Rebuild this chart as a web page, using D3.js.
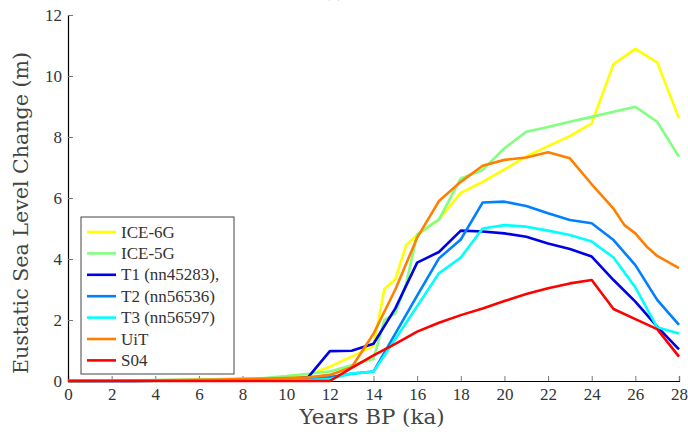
<!DOCTYPE html>
<html>
<head>
<meta charset="utf-8">
<script src="https://cdn.jsdelivr.net/npm/d3@7"></script>
<style>
  body { margin: 0; background: #fff; }
</style>
</head>
<body>
<div id="chart"></div>
<script>
// Data
const years = d3.range(0, 29);
const yearsIce = [0,1,2,3,4,5,6,7,8,9,10,11,12,13,14,14.5,15,15.5,16,17,18,19,20,21,22,23,24,25,26,27,28];
const yearsUiT = [0,1,2,3,4,5,6,7,8,9,10,11,12,13,14,15,16,17,18,19,20,21,22,23,24,25,25.5,26,26.5,27,28];

const ice6g = [0,0,0.01,0.01,0.02,0.02,0.03,0.04,0.05,0.07,0.1,0.2,0.47,0.8,1.15,3.02,3.33,4.46,4.79,5.3,6.17,6.53,6.94,7.36,7.7,8.03,8.45,10.39,10.89,10.45,8.61];
const ice5g = [0,0,0.01,0.02,0.03,0.04,0.05,0.06,0.08,0.1,0.16,0.24,0.31,0.52,0.72,2.0,2.22,3.2,4.8,5.3,6.64,6.92,7.63,8.17,8.33,8.5,8.66,8.83,8.99,8.5,7.35];
const t1 = [0,0,0,0,0.01,0.01,0.02,0.02,0.03,0.04,0.06,0.12,0.98,0.99,1.22,2.38,3.88,4.23,4.93,4.9,4.84,4.73,4.51,4.33,4.08,3.31,2.6,1.78,1.04];
const t2 = [0,0,0,0,0.01,0.01,0.01,0.02,0.02,0.03,0.03,0.05,0.13,0.24,0.31,1.55,2.8,4.02,4.64,5.85,5.88,5.74,5.5,5.28,5.17,4.62,3.8,2.66,1.84];
const t3 = [0,0,0,0,0,0.01,0.01,0.01,0.01,0.02,0.02,0.03,0.06,0.25,0.3,1.38,2.45,3.53,4.05,5.0,5.11,5.06,4.93,4.79,4.57,4.05,3.07,1.76,1.56];
const uit = [0,0.01,0.01,0.02,0.02,0.03,0.04,0.05,0.06,0.08,0.1,0.12,0.2,0.45,1.55,3.0,4.7,5.9,6.53,7.06,7.25,7.33,7.5,7.3,6.45,5.65,5.11,4.84,4.42,4.1,3.7];
const s04 = [0,0,0,0,0,0,0,0,0,0,0,0,0,0.43,0.84,1.22,1.62,1.91,2.16,2.38,2.62,2.85,3.04,3.2,3.31,2.36,2.03,1.7,0.8];

const seriesNames = ['ICE-6G', 'ICE-5G', 'T1 (nn45283),', 'T2 (nn56536)', 'T3 (nn56597)', 'UiT', 'S04'];
const seriesColors = ['#ffff00', '#80ff80', '#0000e6', '#0080ff', '#00ffff', '#ff8000', '#ff0000'];
const seriesX = [yearsIce, yearsIce, years, years, years, yearsUiT, years];
const seriesY = [ice6g, ice5g, t1, t2, t3, uit, s04];

const xTicks = d3.range(0, 29, 2);
const yTicks = [0, 2, 4, 6, 8, 10, 12];

// Liberation Serif falls back to sans at big sizes here, so the titles use DejaVu Serif
const serif = '"Liberation Serif", serif';
const titleFont = '"DejaVu Serif"';
let width = 688,
  height = 435;
const margin = { left: 68, top: 15, right: 9, bottom: 54 };

const svg = d3
  .select('#chart')
  .append('svg')
  .attr('width', width)
  .attr('height', height);

const x = d3.scaleLinear().domain([0, 28]).range([margin.left, width - margin.right]);
const y = d3.scaleLinear().domain([0, 12]).range([height - margin.bottom, margin.top]);

// title, cut off by the top edge in the original
svg.append('text')
  .attr('x', 334)
  .attr('y', -3)
  .attr('text-anchor', 'middle')
  .style('font-family', serif)
  .style('font-size', '16px')
  .attr('fill', '#333')
  .text('(a)');

// axes with inward ticks
const xAxis = svg.append('g')
  .attr('transform', `translate(0,${y(0)})`)
  .call(d3.axisBottom(x).tickValues(xTicks).tickSize(-5).tickPadding(7));
const yAxis = svg.append('g')
  .attr('transform', `translate(${x(0)},0)`)
  .call(d3.axisLeft(y).tickValues(yTicks).tickSize(-5).tickPadding(6));

[xAxis, yAxis].forEach((a) => {
  a.select('.domain').attr('stroke', '#000').attr('stroke-width', 1.2);
  a.selectAll('.tick line').attr('stroke', '#777');
  a.selectAll('.tick text')
    .style('font-family', serif)
    .style('font-size', '17px')
    .attr('fill', '#333');
});

// lines
const line = d3.line().x((d) => x(d[0])).y((d) => y(d[1]));
const g = svg.append('g')
  .attr('fill', 'none')
  .attr('stroke-width', 2.6)
  .attr('stroke-linejoin', 'round');

seriesNames.forEach((name, i) => {
  const pts = seriesX[i].map((xv, j) => [xv, seriesY[i][j]]);
  g.append('path')
    .attr('d', line(pts))
    .attr('stroke', seriesColors[i]);
});

// axis titles
svg.append('text')
  .attr('transform', `translate(28,${(y(0) + y(12)) / 2 + 15}) rotate(-90)`)
  .attr('text-anchor', 'middle')
  .attr('font-family', 'DejaVu Serif')
  .style('font-family', titleFont)
  .style('font-size', '21px')
  .attr('fill', '#444')
  .attr('textLength', 322)
  .attr('lengthAdjust', 'spacingAndGlyphs')
  .text('Eustatic Sea Level Change (m)');

svg.append('text')
  .attr('x', 372)
  .attr('y', 424)
  .attr('text-anchor', 'middle')
  .attr('font-family', 'DejaVu Serif')
  .style('font-family', titleFont)
  .style('font-size', '21px')
  .attr('fill', '#444')
  .attr('textLength', 145)
  .attr('lengthAdjust', 'spacingAndGlyphs')
  .text('Years BP (ka)');

// legend
const legend = svg.append('g').attr('transform', 'translate(81,217)');
legend.append('rect')
  .attr('width', 153)
  .attr('height', 157)
  .attr('fill', '#fff')
  .attr('stroke', '#444')
  .attr('stroke-width', 1);

legend.selectAll('g.item')
  .data(seriesNames)
  .join('g')
  .attr('class', 'item')
  .attr('transform', (d, i) => `translate(0,${15 + i * 21.4})`)
  .each(function (d, i) {
    const item = d3.select(this);
    item.append('line')
      .attr('x1', 6).attr('x2', 35)
      .attr('stroke', seriesColors[i])
      .attr('stroke-width', 2.6);
    item.append('text')
      .attr('x', 40)
      .attr('y', 5.5)
      .style('font-family', serif)
      .style('font-size', '17px')
      .attr('fill', '#333')
      .text(d);
  });
</script>
</body>
</html>
